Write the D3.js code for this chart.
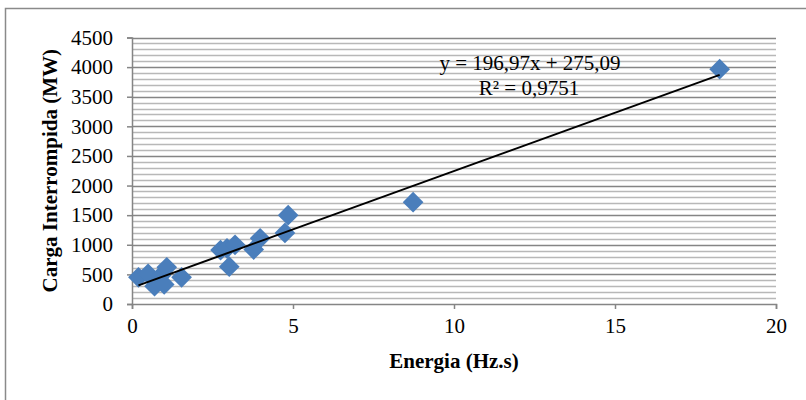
<!DOCTYPE html>
<html>
<head>
<meta charset="utf-8">
<script src="https://cdn.jsdelivr.net/npm/d3@7"></script>
<style>
  body { margin: 0; background: #fff; }
  svg text { font-family: "Liberation Serif", "Times New Roman", serif; fill: #000; }
</style>
</head>
<body>
<div class="chart"></div>
<script>
  // energy (Hz.s) vs interrupted load (MW)
  var energia = [0.2, 0.5, 0.7, 0.9, 1.0, 1.08, 1.54, 2.75, 2.95, 3.02, 3.2, 3.78, 3.98, 4.75, 4.85, 8.73, 18.25];
  var carga = [450, 510, 300, 480, 330, 620, 450, 910, 940, 630, 1000, 920, 1110, 1200, 1500, 1720, 3965];
  var slope = 196.97;
  var intercept = 275.09;
  var xTicks = [0, 5, 10, 15, 20];
  var yTicks = [0, 500, 1000, 1500, 2000, 2500, 3000, 3500, 4000, 4500];
  var eqLabel = 'y = 196,97x + 275,09';
  var r2Label = 'R\u00b2 = 0,9751';

  var width = 806;
  var height = 400;
  // plot area edges ("top" is taken by window.top, so prefix them)
  var plotLeft = 132, plotRight = 776, plotTop = 37.5, plotBottom = 304;

  var svg = d3.select('.chart')
    .append('svg')
    .attr('width', width)
    .attr('height', height);

  // outer chart border runs past the page edge on the right and bottom
  svg.append('rect')
    .attr('x', 5.5).attr('y', 8.5)
    .attr('width', 900).attr('height', 500)
    .attr('fill', 'none')
    .attr('stroke', '#8a8a8a')
    .attr('stroke-width', 1.5);

  var x = d3.scaleLinear().domain([0, 20]).range([plotLeft, plotRight]);
  var y = d3.scaleLinear().domain([0, 4500]).range([plotBottom, plotTop]);

  // minor gridlines every 100 MW, major every 500
  var minor = d3.range(100, 4500, 100).filter(function(v){ return v % 500 !== 0 });
  svg.append('g').selectAll('line')
    .data(minor)
    .enter()
    .append('line')
    .attr('x1', plotLeft).attr('x2', plotRight)
    .attr('y1', function(d){ return Math.round(y(d)) + 0.5 })
    .attr('y2', function(d){ return Math.round(y(d)) + 0.5 })
    .attr('stroke', '#b8b8b8')
    .attr('stroke-width', 1.4);

  svg.append('g').selectAll('line')
    .data(yTicks.filter(function(v){ return v > 0 }))
    .enter()
    .append('line')
    .attr('x1', plotLeft).attr('x2', plotRight)
    .attr('y1', function(d){ return Math.round(y(d)) + 0.5 })
    .attr('y2', function(d){ return Math.round(y(d)) + 0.5 })
    .attr('stroke', '#858585')
    .attr('stroke-width', 1.4);

  // axes
  var yAxis = svg.append('g')
    .attr('transform', 'translate(' + plotLeft + ',0)')
    .call(d3.axisLeft(y).tickValues(yTicks).tickSize(5).tickPadding(14).tickFormat(d3.format('d')));

  var xAxis = svg.append('g')
    .attr('transform', 'translate(0,' + plotBottom + ')')
    .call(d3.axisBottom(x).tickValues(xTicks).tickSize(5).tickPadding(9).tickFormat(d3.format('d')));

  [yAxis, xAxis].forEach(function(ax){
    ax.select('.domain').attr('stroke', '#858585').attr('stroke-width', 1.5);
    ax.selectAll('.tick line').attr('stroke', '#858585').attr('stroke-width', 1.5);
    ax.selectAll('.tick text')
      .attr('font-family', '"Liberation Serif", serif')
      .attr('font-size', 21)
      .attr('fill', '#000');
  });

  // points
  var points = energia.map(function(e, i){ return { x: e, y: carga[i] } });
  svg.append('g').selectAll('path')
    .data(points)
    .enter()
    .append('path')
    .attr('d', d3.symbol().type(d3.symbolSquare).size(215))
    .attr('transform', function(d){ return 'translate(' + x(d.x) + ',' + y(d.y) + ') rotate(45)' })
    .attr('fill', '#4a7ebb');

  // linear trendline over the data span
  var xMin = d3.min(energia), xMax = d3.max(energia);
  svg.append('line')
    .attr('x1', x(xMin)).attr('y1', y(slope * xMin + intercept))
    .attr('x2', x(xMax)).attr('y2', y(slope * xMax + intercept))
    .attr('stroke', '#000')
    .attr('stroke-width', 2);

  svg.append('text')
    .attr('x', 530).attr('y', 70)
    .attr('text-anchor', 'middle')
    .attr('font-size', 21)
    .text(eqLabel);

  svg.append('text')
    .attr('x', 529).attr('y', 95)
    .attr('text-anchor', 'middle')
    .attr('font-size', 21)
    .text(r2Label);

  // axis titles
  svg.append('text')
    .attr('x', (plotLeft + plotRight) / 2).attr('y', 368)
    .attr('text-anchor', 'middle')
    .attr('font-size', 21)
    .attr('font-weight', 'bold')
    .text('Energia (Hz.s)');

  svg.append('text')
    .attr('transform', 'translate(57,' + (plotTop + plotBottom) / 2 + ') rotate(-90)')
    .attr('text-anchor', 'middle')
    .attr('font-size', 21)
    .attr('font-weight', 'bold')
    .text('Carga Interrompida (MW)');
</script>
</body>
</html>
